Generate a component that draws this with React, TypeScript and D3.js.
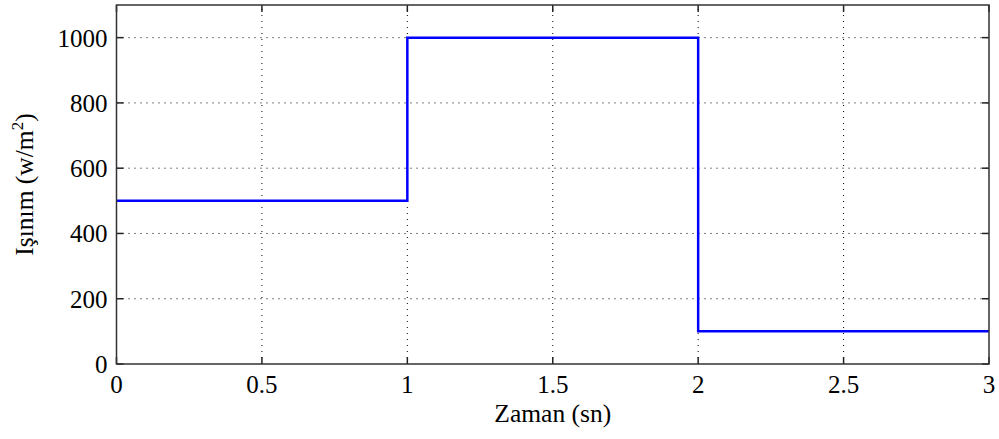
import React from "react";
import * as d3 from "d3";

const stepTimes = [0, 1, 1, 2, 2, 3];
const irradiance = [500, 500, 1000, 1000, 100, 100];
const xTicks = [0, 0.5, 1, 1.5, 2, 2.5, 3];
const yTicks = [0, 200, 400, 600, 800, 1000];
const xLabel = "Zaman (sn)";
const yLabelMain = "Işınım (w/m";
const yLabelSup = "2";

export default function App() {
  const W = 999, H = 439;
  const m = { left: 116.5, right: 10, top: 5, bottom: 75 };
  const x = d3.scaleLinear().domain([0, 3]).range([m.left, W - m.right]);
  const y = d3.scaleLinear().domain([0, 1100]).range([H - m.bottom, m.top]);
  const pts = stepTimes.map((t, i) => [t, irradiance[i]] as [number, number]);
  const line = d3.line<[number, number]>().x(d => x(d[0])).y(d => y(d[1]));
  const font = "Liberation Serif, Tinos, Times New Roman, serif";
  const ts = { fontFamily: font, fontSize: 25 } as React.CSSProperties;
  const ls = { fontFamily: font, fontSize: 25.5 } as React.CSSProperties;
  const x0 = x(0), x1 = x(3), y0 = y(0), y1 = y(1100);
  return (
    <svg width={W} height={H} style={{ position: "absolute", left: 0, top: 0, background: "#fff" }}>
      <rect x={0} y={0} width={W} height={H} fill="#fff" />
      {xTicks.filter(t => t > 0 && t < 3).map(t => (
        <line key={"gx" + t} x1={x(t)} x2={x(t)} y1={y0} y2={y1} stroke="#000" strokeWidth={1} strokeDasharray="1,5" />
      ))}
      {yTicks.filter(t => t > 0).map(t => (
        <line key={"gy" + t} x1={x0} x2={x1} y1={y(t)} y2={y(t)} stroke="#000" strokeWidth={1} strokeDasharray="1,5" />
      ))}
      {xTicks.map(t => (
        <g key={"tx" + t}>
          <line x1={x(t)} x2={x(t)} y1={y0} y2={y0 - 7} stroke="#222" strokeWidth={1.5} />
          <line x1={x(t)} x2={x(t)} y1={y1} y2={y1 + 7} stroke="#222" strokeWidth={1.5} />
          <text x={x(t)} y={y0 + 29} textAnchor="middle" style={ts} fill="#000">{String(t)}</text>
        </g>
      ))}
      {yTicks.map(t => (
        <g key={"ty" + t}>
          <line x1={x0} x2={x0 + 7} y1={y(t)} y2={y(t)} stroke="#222" strokeWidth={1.5} />
          <line x1={x1} x2={x1 - 7} y1={y(t)} y2={y(t)} stroke="#222" strokeWidth={1.5} />
          <text x={x0 - 9} y={y(t) + 9} textAnchor="end" style={ts} fill="#000">{String(t)}</text>
        </g>
      ))}
      <path d={line(pts) || ""} fill="none" stroke="#0000ff" strokeWidth={2.5} />
      <rect x={x0} y={y1} width={x1 - x0} height={y0 - y1} fill="none" stroke="#333" strokeWidth={1.5} />
      <text x={(x0 + x1) / 2} y={422} textAnchor="middle" style={ls} fill="#000">{xLabel}</text>
      <text transform={`translate(33, ${(y0 + y1) / 2}) rotate(-90)`} textAnchor="middle" style={ls} fill="#000">
        {yLabelMain}<tspan dy={-10} style={{ fontSize: 17 }}>{yLabelSup}</tspan><tspan dy={10}>)</tspan>
      </text>
    </svg>
  );
}
